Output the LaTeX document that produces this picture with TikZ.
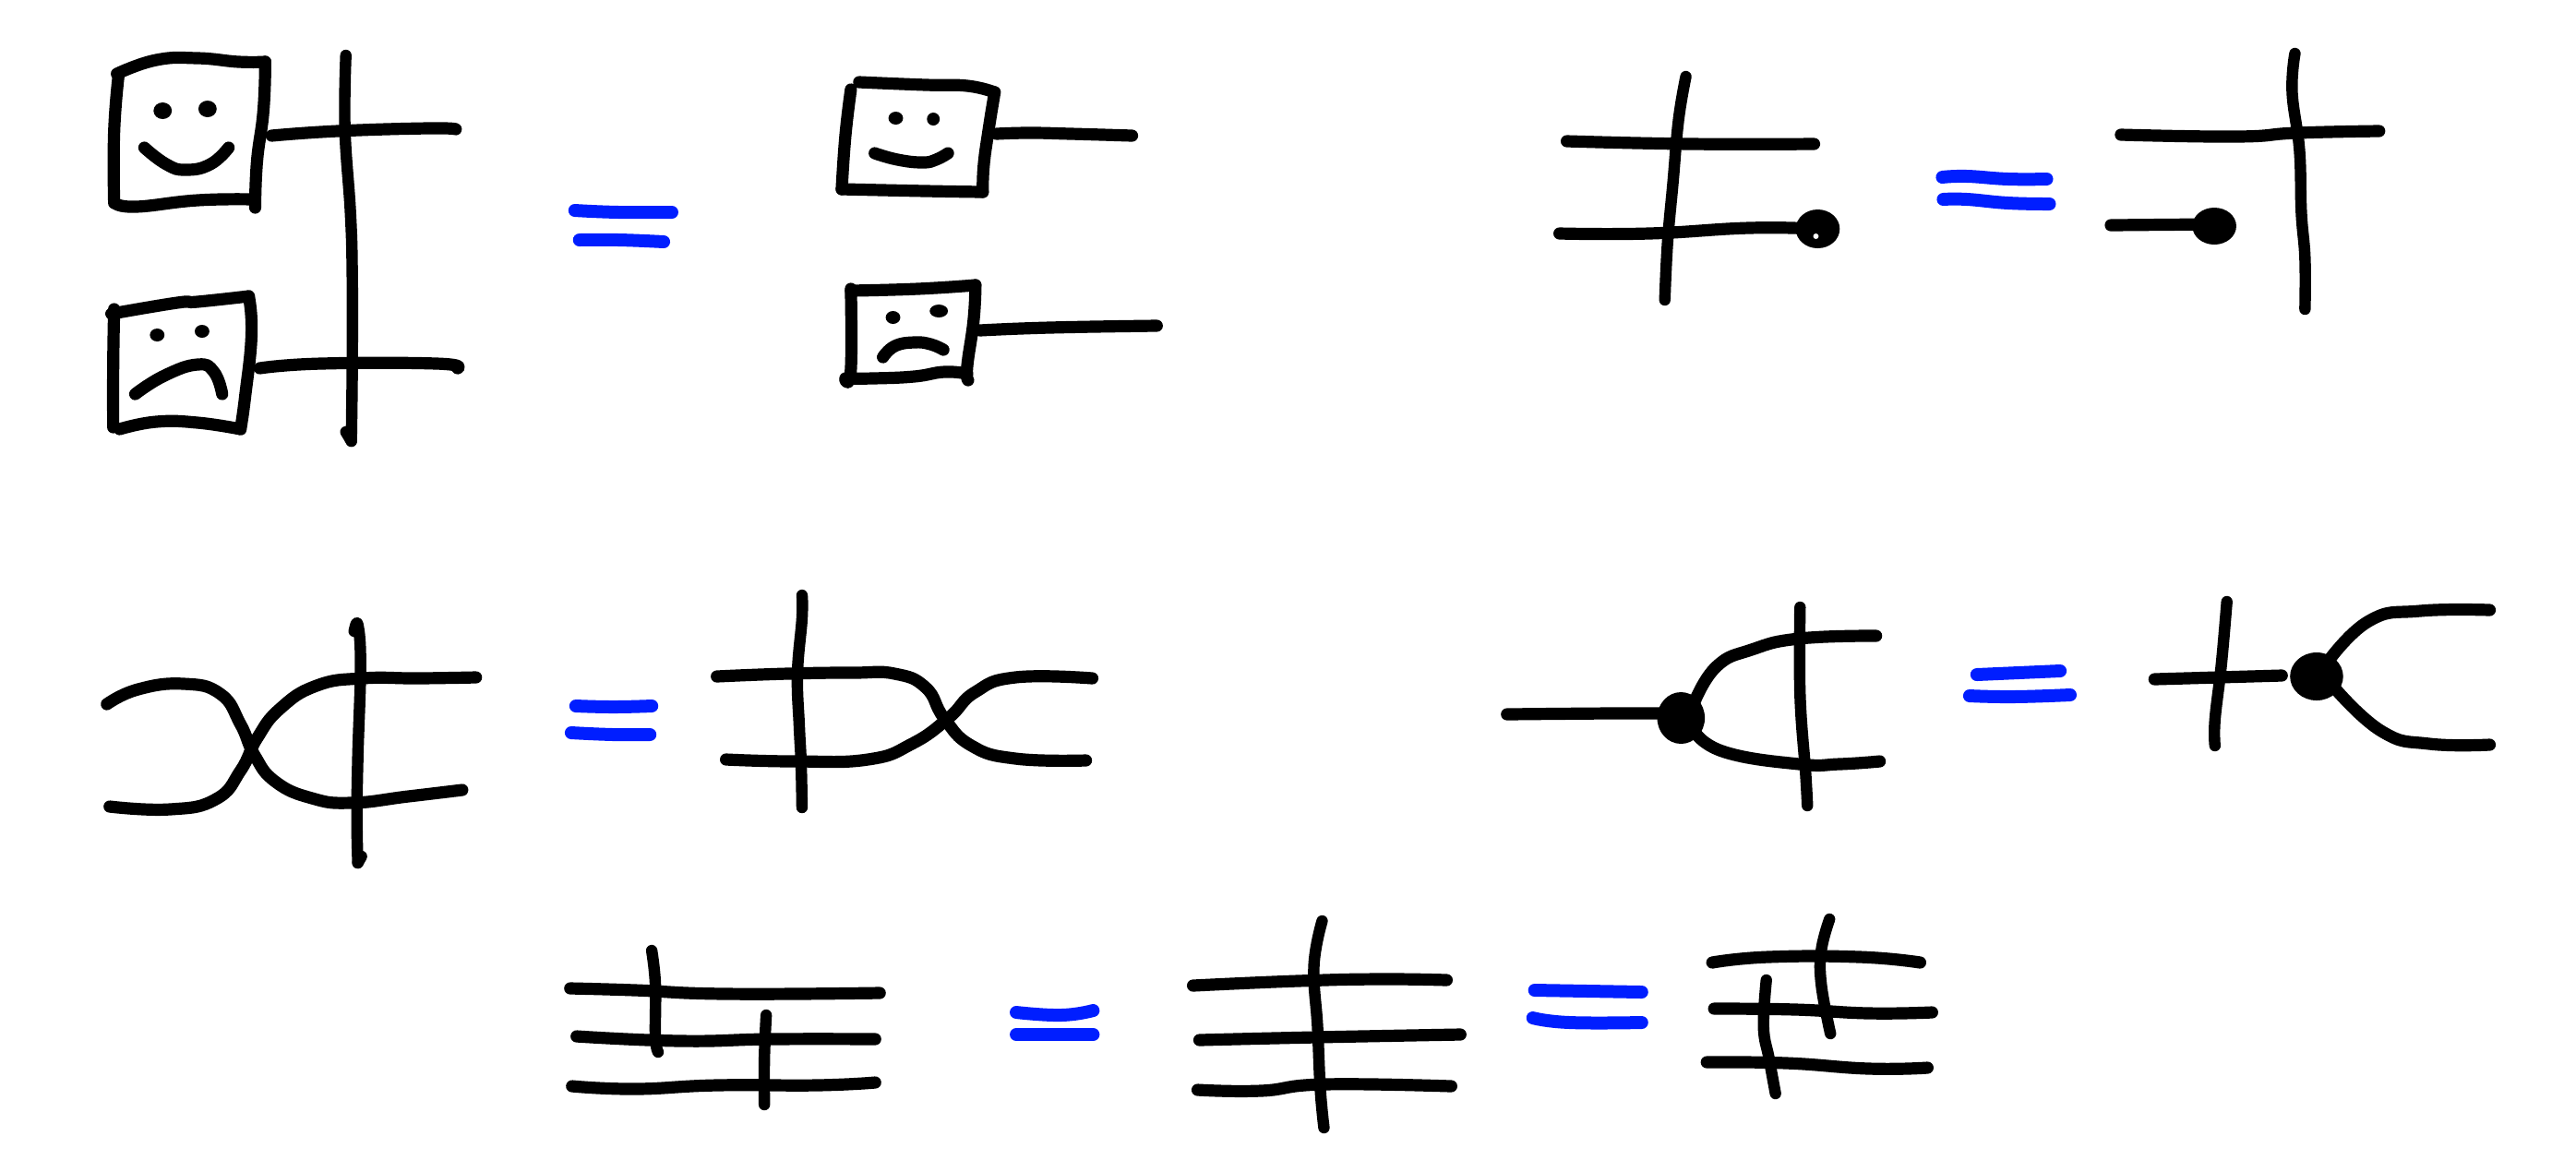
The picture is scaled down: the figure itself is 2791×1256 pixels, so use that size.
\documentclass[tikz,border=0pt]{standalone}
\definecolor{penblue}{RGB}{0,30,255}
\tikzset{
  inkline/.style={line width=3.3pt,line cap=round,line join=round,black},
  thinline/.style={line width=3.1pt,line cap=round,line join=round,black},
  blueline/.style={line width=3.5pt,line cap=round,line join=round,penblue},
  cropfix/.style={shift={(#1,0)},xscale=0.9923,shift={(-#1,0)}}
}
\newcommand\inkpath[1]{\draw[inkline] plot[smooth,tension=.8] coordinates {#1};}
\newcommand\thinpath[1]{\draw[thinline] plot[smooth,tension=.7] coordinates {#1};}
\newcommand\bluepath[1]{\draw[blueline] plot[smooth,tension=.8] coordinates {#1};}
\newcommand\blob[4]{\fill[black] (#1,#2) ellipse [x radius=#3, y radius=#4];}
\begin{document}
\begin{tikzpicture}[x=0.25pt,y=-0.25pt]
\useasboundingbox (0,0) rectangle (2791,1256);
% --- top left, left side
\begin{scope}[cropfix=80]
\inkpath{(127,80)(170,65)(215,63)(260,67)(289,67)}
\inkpath{(289,67)(287,120)(280,175)(278,225)}
\inkpath{(276,216)(215,217)(148,224)(125,220)}
\inkpath{(124,220)(124,143)(129,80)}
\blob{177}{120}{10}{9}
\blob{226}{118}{10}{9}
\inkpath{(157,160)(181,178)(202,184)(229,178)(249,160)}
\inkpath{(296,147)(368,142)(467,139)(497,140)}
\thinpath{(377,60)(376,140)(382,230)(384,297)(384,397)(383,478)}
\thinpath{(383,478)(377,468)}
\inkpath{(121,340)(193,328)(215,327)(271,321)}
\inkpath{(271,321)(274,363)(267,430)(262,465)}
\inkpath{(262,465)(215,458)(170,457)(130,465)}
\inkpath{(123,463)(123,397)(124,335)}
\blob{171}{363}{8}{7}
\blob{220}{359}{8}{7}
\inkpath{(147,427)(179,407)(215,395)(233,403)(242,427)}
\inkpath{(283,399)(350,394)(476,394)(499,399)}
\bluepath{(627,228)(675,230)(733,230)}
\bluepath{(632,260)(675,260)(724,262)}
\end{scope}
% --- top left, right side
\begin{scope}[cropfix=780]
\inkpath{(932,89)(1005,92)(1050,93)(1080,100)}
\inkpath{(1080,100)(1073,143)(1068,180)(1067,208)}
\inkpath{(1067,208)(1005,207)(913,205)}
\inkpath{(913,205)(917,147)(923,97)}
\blob{972}{128}{8}{7}
\blob{1013}{129}{7}{7}
\inkpath{(949,166)(974,173)(1001,176)(1016,173)(1029,166)}
\inkpath{(1082,145)(1118,144)(1163,145)(1230,147)}
\inkpath{(923,315)(996,313)(1059,309)}
\inkpath{(1059,309)(1057,347)(1050,397)(1051,412)}
\inkpath{(1050,405)(1025,403)(992,408)(947,410)(917,410)}
\inkpath{(923,313)(923,400)(917,412)}
\blob{969}{344}{8}{7}
\blob{1019}{337}{10}{7}
\inkpath{(958,387)(971,375)(992,371)(1010,373)(1024,379)}
\inkpath{(1064,358)(1140,355)(1257,353)}
\end{scope}
% --- top right
\begin{scope}[cropfix=1640]
\thinpath{(1828,83)(1820,130)(1814,197)(1808,263)(1805,325)}
\inkpath{(1698,153)(1833,156)(1968,156)}
\inkpath{(1690,253)(1788,253)(1897,247)(1968,248)}
\blob{1972}{248}{24}{21}
\fill[white] (1970,256) circle [radius=3];
\bluepath{(2108,192)(2135,191)(2180,194)(2222,194)}
\bluepath{(2109,216)(2135,216)(2180,220)(2225,221)}
\thinpath{(2493,58)(2490,100)(2498,163)(2500,230)(2504,280)(2504,335)}
\inkpath{(2303,146)(2430,148)(2495,144)(2585,142)}
\inkpath{(2292,244)(2405,243)}
\blob{2405}{245}{24}{20}
\end{scope}
% --- middle left
\begin{scope}[cropfix=90]
\inkpath{(116,763)(150,747)(200,741)(240,752)(262,785)(277,818)(300,847)(340,865)(383,870)(445,863)(504,856)}
\inkpath{(119,874)(185,877)(235,866)(262,835)(280,800)(305,768)(345,743)(395,735)(456,735)(519,734)}
\thinpath{(386,684)(390,677)(393,720)(390,820)(389,887)(390,935)}
\thinpath{(390,935)(394,928)}
\bluepath{(628,765)(669,766)(711,765)}
\bluepath{(623,794)(669,796)(709,796)}
\thinpath{(875,645)(875,670)(870,730)(872,787)(874,827)(875,875)}
\inkpath{(782,733)(859,730)(930,729)(976,730)(1010,745)(1030,778)(1060,808)(1108,822)(1185,824)}
\inkpath{(792,823)(867,825)(947,823)(995,806)(1035,778)(1064,750)(1108,734)(1192,735)}
\end{scope}
% --- middle right
\begin{scope}[cropfix=1600]
\inkpath{(1633,774)(1747,773)(1820,773)}
\blob{1823}{778}{26}{28}
\inkpath{(1838,760)(1862,722)(1900,704)(1952,692)(2036,689)}
\inkpath{(1838,793)(1871,815)(1952,828)(1996,828)(2040,825)}
\thinpath{(1953,658)(1953,753)(1959,837)(1961,873)}
\bluepath{(2146,731)(2237,727)}
\bluepath{(2138,754)(2186,755)(2248,753)}
\thinpath{(2419,652)(2413,720)(2406,780)(2406,808)}
\inkpath{(2340,736)(2479,732)}
\blob{2517}{733}{29}{26}
\inkpath{(2527,720)(2574,673)(2630,662)(2706,661)}
\inkpath{(2538,747)(2589,793)(2640,806)(2706,807)}
\end{scope}
% --- bottom row
\begin{scope}[cropfix=590]
\inkpath{(618,1071)(689,1073)(788,1077)(956,1076)}
\inkpath{(625,1123)(739,1128)(838,1126)(951,1126)}
\inkpath{(620,1177)(689,1180)(778,1176)(887,1176)(951,1173)}
\thinpath{(707,1030)(711,1067)(711,1123)(714,1140)}
\thinpath{(832,1100)(830,1147)(830,1197)}
\bluepath{(1105,1097)(1154,1100)(1189,1095)}
\bluepath{(1105,1121)(1189,1121)}
\thinpath{(1439,998)(1430,1047)(1434,1113)(1437,1180)(1441,1222)}
\inkpath{(1298,1068)(1412,1063)(1501,1061)(1575,1062)}
\inkpath{(1305,1127)(1432,1124)(1590,1121)}
\inkpath{(1303,1181)(1372,1182)(1441,1175)(1580,1177)}
\bluepath{(1671,1073)(1788,1075)}
\bluepath{(1669,1103)(1709,1108)(1788,1108)}
\inkpath{(1865,1043)(1926,1037)(2026,1037)(2092,1043)}
\inkpath{(1867,1093)(1956,1094)(2036,1098)(2105,1097)}
\inkpath{(1859,1151)(1946,1152)(2036,1158)(2100,1157)}
\thinpath{(1993,996)(1984,1030)(1984,1067)(1994,1120)}
\thinpath{(1924,1062)(1921,1113)(1927,1147)(1934,1185)}
\end{scope}
\end{tikzpicture}
\end{document}
